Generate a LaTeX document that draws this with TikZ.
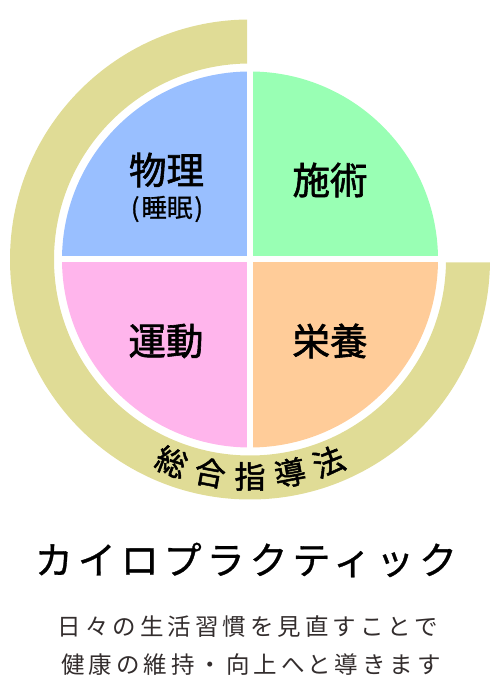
\documentclass[tikz,border=0pt]{standalone}
\usepackage{fontspec}
\usetikzlibrary{calc}
\newfontfamily\jp{Noto Sans CJK JP}
\newfontfamily\jpm{Noto Sans CJK JP}[FakeBold=1.6]
\newfontfamily\jpt{Noto Sans CJK JP}[FakeBold=0.8]
\definecolor{qblue}{RGB}{153,191,255}
\definecolor{qgreen}{RGB}{153,255,180}
\definecolor{qpink}{RGB}{255,181,236}
\definecolor{qorange}{RGB}{255,204,153}
\definecolor{ringc}{RGB}{224,220,150}
\definecolor{subtxt}{RGB}{51,45,45}
\tikzset{
  lbl/.style={inner sep=0pt, font=\jpm\fontsize{37.5}{40}\selectfont},
  sublbl/.style={inner sep=0pt, font=\jpt\fontsize{25.5}{28}\selectfont},
  ringlbl/.style={inner sep=0pt, font=\jpm\fontsize{31}{34}\selectfont},
  title/.style={inner sep=0pt, font=\jpt\fontsize{38}{40}\selectfont\addfontfeature{LetterSpace=13}},
  desc/.style={inner sep=0pt, text=subtxt, font=\jp\fontsize{23.5}{26}\selectfont\addfontfeature{LetterSpace=17}}
}
\begin{document}
\begin{tikzpicture}[x=1pt,y=1pt]
\useasboundingbox (0,0) rectangle (500,700);
\coordinate (C) at (250,440.5);
% outer ring (270 degrees)
\begin{scope}
  \clip (0,0) -- (500,0) -- (500,437.5) -- (247,437.5) -- (247,700) -- (0,700) -- cycle;
  \fill[ringc, even odd rule] (C) circle (240) (C) circle (196);
\end{scope}
% quadrants
\begin{scope}
  \clip (C) circle (188);
  \fill[qblue] (0,443.5) rectangle (247,700);
  \fill[qgreen] (253,443.5) rectangle (500,700);
  \fill[qpink] (0,0) rectangle (247,437.5);
  \fill[qorange] (253,0) rectangle (500,437.5);
\end{scope}
% labels
\node[lbl] (butsuri) at (166.5,530) {物理};
\node[sublbl] (suimin) at (167,491) {(\kern2pt 睡眠\kern2pt)};
\node[lbl] (sejutsu) at (330,520) {施術};
\node[lbl] (undou) at (166,359) {運動};
\node[lbl] (eiyou) at (330,359) {栄養};
% ring text
\foreach \ch [count=\i from -2] in {総,合,指,導,法}{
  \node[ringlbl, rotate=\i*10.6] (r\i) at ($(C)+({270+\i*10.6}:217)$) {\ch};
}
\node[title] (chiro) at (246,140) {カイロプラクティック};
\node[desc] (line1) at (248,73) {日々の生活習慣を見直すことで};
\node[desc] (line2) at (251,35) {健康の維持・向上へと導きます};
\end{tikzpicture}
\end{document}
